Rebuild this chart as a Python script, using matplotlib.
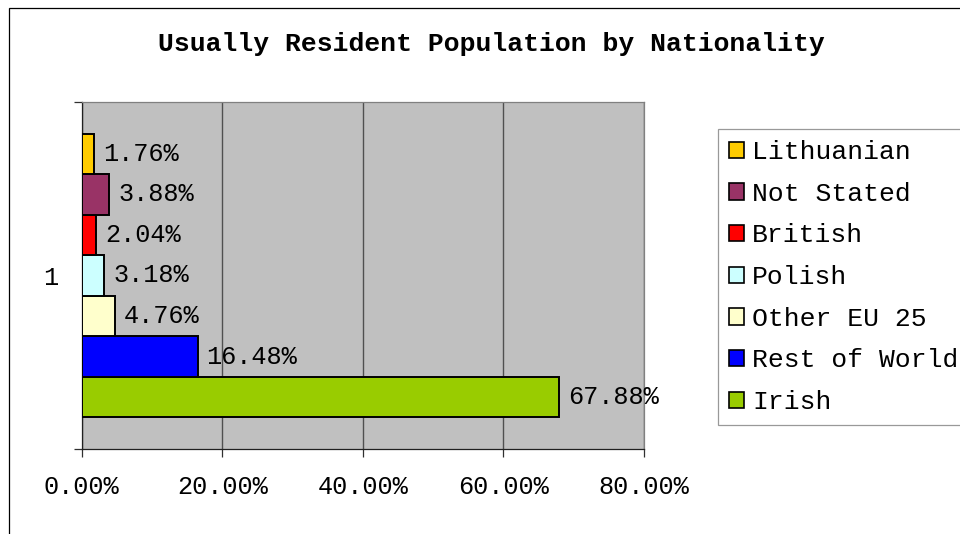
import matplotlib
matplotlib.use("Agg")
import matplotlib.pyplot as plt
from matplotlib.patches import Rectangle, Patch

plt.rcParams['font.family'] = ['Liberation Mono', 'DejaVu Sans']

# Data (bottom to top in the bar group)
series = ["Irish", "Rest of World", "Other EU 25", "Polish", "British", "Not Stated", "Lithuanian"]
values = [67.88, 16.48, 4.76, 3.18, 2.04, 3.88, 1.76]
colors = ["#99CC00", "#0000FF", "#FFFFCC", "#CCFFFF", "#FF0000", "#993366", "#FFCC00"]
category = "1"
xticks = [0, 20, 40, 60, 80]
xtick_labels = ["0.00%", "20.00%", "40.00%", "60.00%", "80.00%"]
title = "Usually Resident Population by Nationality"

W, H = 960, 534
fig = plt.figure(figsize=(W / 100, H / 100), dpi=100)

# outer chart border
fig.patches.append(Rectangle((9 / W, -0.1), 2.0, (1 - 8 / H) + 0.1,
                             transform=fig.transFigure, fill=False,
                             edgecolor="#000000", linewidth=0.9, zorder=0))

left, right, top, bottom = 81.7, 644, 102, 449
ax = fig.add_axes([left / W, 1 - bottom / H, (right - left) / W, (bottom - top) / H])
ax.set_facecolor("#C0C0C0")

n = len(series)
bh = 0.1168
for i, (s, v, c) in enumerate(zip(series, values, colors)):
    yc = 1 + (i - (n - 1) / 2) * bh
    ax.barh(yc, v, height=bh, color=c, edgecolor="black", linewidth=1.4, zorder=3)
    ax.annotate(f"{v:.2f}%", xy=(v, yc), xytext=(6.5, 0), textcoords="offset points",
                ha="left", va="center", fontsize=18.2, color="#000000", zorder=4)

ax.set_xlim(0, 80)
ax.set_ylim(0.5, 1.5)
ax.set_xticks(xticks)
ax.set_xticklabels(xtick_labels, fontsize=18.2)
ax.xaxis.grid(True, color="#505050", linewidth=1.0, zorder=1)
ax.set_axisbelow(True)
ax.tick_params(axis="x", direction="out", length=5.8, width=0.9, color="#303030", pad=13)
ax.set_yticks([1])
ax.set_yticklabels([category], fontsize=18.2)
ax.set_yticks([0.5, 1.5], minor=True)
ax.tick_params(axis="y", which="major", length=0, pad=17)
ax.tick_params(axis="y", which="minor", direction="out", length=5.8, width=0.9, color="#303030")

for sp in ["left", "bottom"]:
    ax.spines[sp].set_color("#202020")
    ax.spines[sp].set_linewidth(0.9)
for sp in ["top", "right"]:
    ax.spines[sp].set_color("#808080")
    ax.spines[sp].set_linewidth(0.9)

fig.text(491 / W, 1 - 44 / H, title, ha="center", va="center",
         fontsize=19, fontweight="bold", color="#000000")

handles = [Patch(facecolor=c, edgecolor="black", linewidth=1.2) for c in colors][::-1]
labels = series[::-1]
leg = fig.legend(handles, labels, loc="upper left",
                 bbox_to_anchor=(718 / W, 1 - 129 / H), borderaxespad=0,
                 fontsize=19, frameon=True, fancybox=False,
                 handlelength=0.57, handleheight=0.57, handletextpad=0.3,
                 borderpad=0.42, labelspacing=0.67)
leg.get_frame().set_edgecolor("#808080")
leg.get_frame().set_linewidth(0.9)

fig.savefig("out.png", dpi=100)
